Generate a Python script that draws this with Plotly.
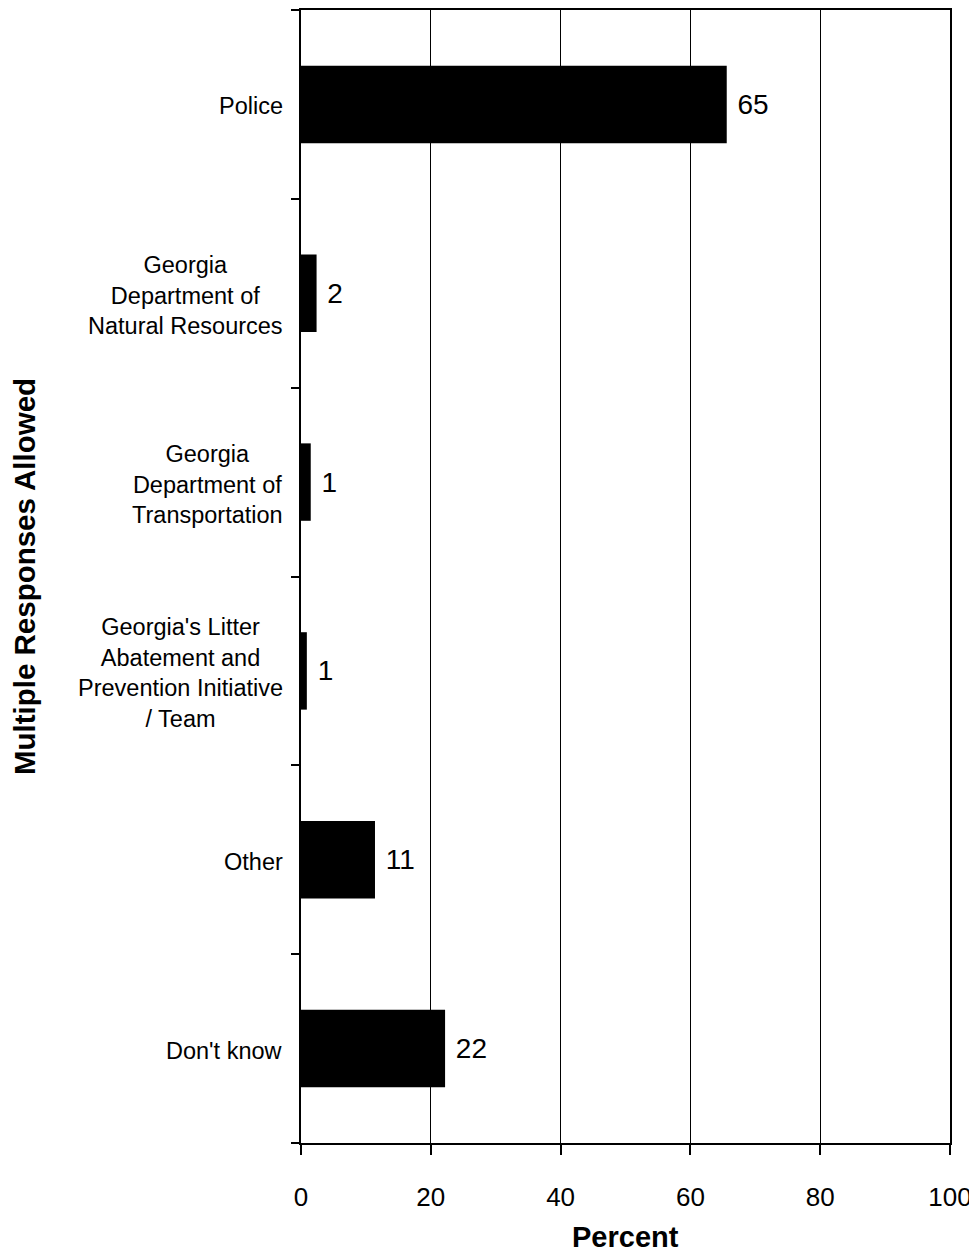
import plotly.graph_objects as go

categories = ["Police", "Georgia<br>Department of<br>Natural Resources",
              "Georgia<br>Department of<br>Transportation",
              "Georgia's Litter<br>Abatement and<br>Prevention Initiative<br>/ Team",
              "Other", "Don't know"]
values = [65.6, 2.4, 1.5, 0.9, 11.4, 22.2]
labels = ["65", "2", "1", "1", "11", "22"]
x_ticks = [0, 20, 40, 60, 80, 100]

n = len(categories)
ypos = [n - 1 - i for i in range(n)]

W, H = 969, 1244
fig = go.Figure()
fig.add_trace(go.Bar(
    x=values, y=ypos, orientation="h", width=0.41,
    marker=dict(color="black", line=dict(width=0)),
    text=[" " + t for t in labels], textposition="outside",
    textfont=dict(family="Liberation Sans, Arial", size=28, color="black"),
    cliponaxis=False, hoverinfo="skip",
))

for c, y in zip(categories, ypos):
    fig.add_annotation(x=0, xref="paper", y=y, yref="y", text=c, showarrow=False,
                       xanchor="right", align="center", xshift=-16, yshift=-2,
                       font=dict(family="Liberation Sans, Arial", size=23.5, color="black"))

fig.add_annotation(x=0.5, xref="paper", y=0, yref="paper", text="<b>Percent</b>",
                   showarrow=False, xanchor="center", yanchor="middle", yshift=-94,
                   font=dict(family="Liberation Sans, Arial", size=29, color="black"))

fig.update_layout(
    width=W, height=H, plot_bgcolor="white", paper_bgcolor="white",
    margin=dict(l=293, r=W - 942, t=2, b=H - 1135), showlegend=False,
    font=dict(family="Liberation Sans, Arial", color="black"),
)
fig.update_xaxes(
    range=[0, 100], tickvals=x_ticks, ticktext=[str(v) for v in x_ticks],
    showgrid=True, gridcolor="black", gridwidth=1,
    showline=True, linecolor="black", linewidth=2, mirror=True,
    ticks="outside", ticklen=10, tickwidth=2, tickcolor="black",
    tickfont=dict(size=26), ticklabelstandoff=20, ticklabeloverflow="allow",
    zeroline=False, automargin=False,
)
fig.update_yaxes(
    range=[-0.5, n - 0.5], tickvals=ypos, ticktext=["" for _ in ypos],
    showgrid=False, zeroline=False, automargin=False,
    showline=True, linecolor="black", linewidth=2, mirror=True,
    ticks="",
    minor=dict(tickvals=[i - 0.5 for i in range(n + 1)], ticks="outside",
               ticklen=8, tickwidth=2, tickcolor="black", showgrid=False),
    title=dict(text="<b>Multiple Responses Allowed</b>", font=dict(size=29.5), standoff=254),
)
fig.write_html("out.html")
